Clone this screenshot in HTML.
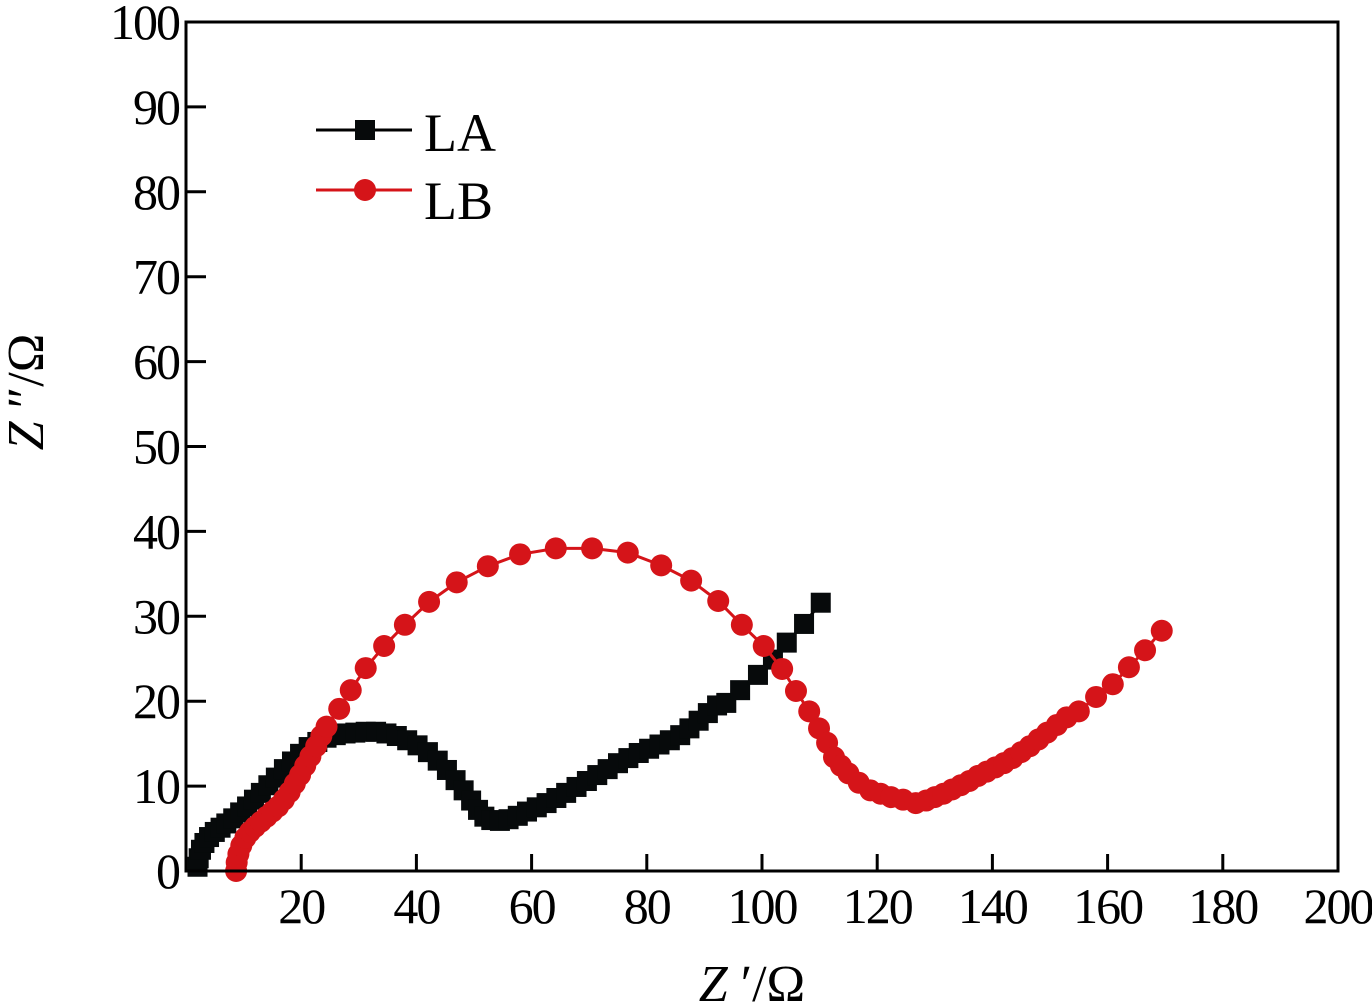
<!DOCTYPE html>
<html><head><meta charset="utf-8"><style>
body{margin:0;background:#fff}
svg{display:block}
text{font-family:"Liberation Serif",serif;fill:#000}
</style></head><body>
<svg id="chart" width="1372" height="1007"></svg>
<script>
const xTicks=[20,40,60,80,100,120,140,160,180,200];
const yTicks=[0,10,20,30,40,50,60,70,80,90,100];
const laX=[2,2.2,2.6,3.2,4,5,6,7,8.2,9.4,10.6,11.8,13,14.3,15.6,17,18.4,19.8,21.3,22.8,24.4,26,27.7,29.4,31.2,33,34.8,36.6,38.4,40.2,42,43.7,45.3,46.8,48.2,49.5,50.7,51.8,53,54.5,56,57.6,59.2,60.9,62.6,64.3,66,67.8,69.6,71.4,73.2,75,76.8,78.6,80.4,82.2,84,85.8,87.4,89,90.6,92.2,93.8,96.2,99.3,101.9,104.3,107.3,110.2];
const laY=[0.5,1.5,2.5,3.3,4,4.6,5.1,5.6,6.2,6.9,7.6,8.4,9.2,10.1,11,12,12.9,13.8,14.6,15.2,15.7,16,16.2,16.3,16.4,16.4,16.2,15.9,15.4,14.8,14,13,11.9,10.7,9.5,8.3,7.2,6.4,6,5.9,6.1,6.5,7,7.5,8,8.6,9.2,9.9,10.6,11.3,12,12.7,13.3,13.9,14.4,14.9,15.4,16,16.8,17.7,18.6,19.5,19.8,21.3,23.1,24.9,26.9,29.1,31.6];
const lbX=[8.7,8.8,9.1,9.6,10.3,11.1,12,13,14,15,16,17,18,18.9,19.8,20.7,21.6,22.6,23.5,24.4,26.6,28.6,31.2,34.4,38,42.2,47,52.4,58,64.2,70.5,76.7,82.5,87.7,92.4,96.5,100.3,103.5,105.9,108.2,109.9,111.3,112.5,113.7,115,116.8,118.8,120.6,122.4,124.5,126.7,128.5,130,131.5,133,134.5,136,137.5,139,140.5,142,143.5,145,146.5,148,149.5,151.2,152.9,155,158,160.9,163.7,166.5,169.4];
const lbY=[0,1,2,3,3.9,4.6,5.2,5.8,6.4,7,7.6,8.4,9.3,10.3,11.3,12.4,13.5,14.7,15.9,17,19.1,21.3,23.9,26.5,29,31.7,34,35.9,37.3,38,38,37.5,36,34.2,31.8,29,26.5,23.8,21.2,18.8,16.8,15.1,13.4,12.4,11.5,10.4,9.5,9.1,8.7,8.4,8.0,8.3,8.7,9.1,9.6,10.1,10.6,11.2,11.7,12.2,12.7,13.3,14,14.7,15.5,16.3,17.2,18.1,18.8,20.5,22,24,26,28.3];
const NS='http://www.w3.org/2000/svg';
const svg=document.getElementById('chart');
const L=186,R=1338,T=22,B=871;
const sx=v=>L+(v-0)*(R-L)/200;
const sy=v=>B-(v-0)*(B-T)/100;
function mk(tag,a,parent){const e=document.createElementNS(NS,tag);for(const k in a)e.setAttribute(k,a[k]);(parent||svg).appendChild(e);return e;}
const gA=mk('g',{});


mk('polyline',{points:laX.map((x,i)=>sx(x)+','+sy(laY[i])).join(' '),fill:'none',stroke:'#000','stroke-width':3},gA);
laX.forEach((x,i)=>{const r=mk('rect',{x:sx(x)-10,y:sy(laY[i])-10,width:20,height:20,fill:'#070a0b'},gA);

});
const gB=mk('g',{});


mk('polyline',{points:lbX.map((x,i)=>sx(x)+','+sy(lbY[i])).join(' '),fill:'none',stroke:'#d51419','stroke-width':3},gB);
lbX.forEach((x,i)=>{const c=mk('circle',{cx:sx(x),cy:sy(lbY[i]),r:11,fill:'#d51419'},gB);

});
const fr=mk('rect',{x:L,y:T,width:R-L,height:B-T,fill:'none',stroke:'#000','stroke-width':3});


xTicks.forEach(v=>{mk('line',{x1:sx(v),x2:sx(v),y1:B,y2:B-17,stroke:'#000','stroke-width':3});
const t=mk('text',{x:sx(v),y:923,'text-anchor':'middle','font-size':50,'letter-spacing':-2});t.textContent=v;

});
yTicks.forEach(v=>{mk('line',{x1:L,x2:L+20,y1:sy(v),y2:sy(v),stroke:'#000','stroke-width':3});
const t=mk('text',{x:179,y:sy(v)+17,'text-anchor':'end','font-size':50,'letter-spacing':-2});t.textContent=v;

});
</script>
<svg width="1372" height="1007" style="position:absolute;left:0;top:0">
<text x="752" y="1001" text-anchor="middle" font-size="52"><tspan font-style="italic">Z</tspan> ′/Ω</text>
<text transform="translate(43,392) rotate(-90)" text-anchor="middle" font-size="52"><tspan font-style="italic">Z</tspan> ″/Ω</text>
<g>
<line x1="316" x2="412" y1="130" y2="130" stroke="#000" stroke-width="3"/>
<rect x="355" y="120" width="20" height="20" fill="#070a0b"/>
<text x="424" y="151" font-size="54">LA</text>
<line x1="316" x2="412" y1="190" y2="190" stroke="#d51419" stroke-width="3"/>
<circle cx="365" cy="190" r="11" fill="#d51419"/>
<text x="424" y="219" font-size="54">LB</text>
</g>
</svg>
</body></html>
